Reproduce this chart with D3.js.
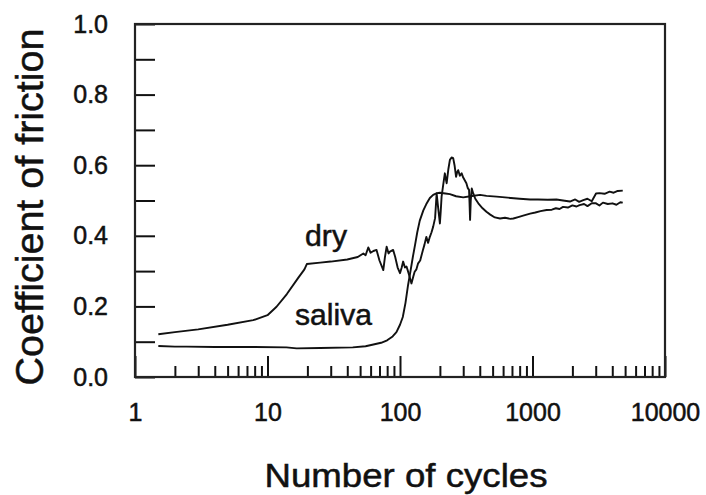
<!DOCTYPE html>
<html>
<head>
<meta charset="utf-8">
<script src="https://cdn.jsdelivr.net/npm/d3@7"></script>
<style>
  html, body { margin: 0; padding: 0; background: #fff; }
  svg { display: block; }
  text { font-family: "Liberation Sans", Arial, Helvetica, sans-serif; fill: #111; stroke: #111; stroke-width: 0.5px; }
</style>
</head>
<body>
<svg id="chart" width="706" height="495"></svg>
<script>
// ---- data ----
const xTickLabels = [1, 10, 100, 1000, 10000];
const yTickValues = [0, 0.1, 0.2, 0.3, 0.4, 0.5, 0.6, 0.7, 0.8, 0.9, 1.0];
const yTickLabels = [0, 0.2, 0.4, 0.6, 0.8, 1.0];
const seriesNames = ["dry", "saliva"];

const dryCycles = [1.5,2,3,5,7.8,10,11.7,14,17,19,19.8,25,30,40,48,52.9,55,57.6,60,63,66.5,70,74.8,77,79.3,82,84,88.8,92,96,100,103,105.6,109,112,117,122,126,129,133,137,142,149,153,158,163,168,173,178,184,189,194,200,203,206,212,218,222,225,232,238,245,252,258,265,270,275,283,292,300,317,325,332,335,338,342,348,357,370,390,420,449,480,520,569,620,680,717,780,850,960,1050,1150,1277,1400,1500,1600,1700,1850,2000,2150,2265,2450,2600,2800,3016,3200,3400,3700,4016,4300,4600,4800];
const dryMu = [0.121,0.127,0.135,0.148,0.161,0.175,0.199,0.235,0.28,0.305,0.32,0.324,0.327,0.333,0.34,0.35,0.345,0.367,0.352,0.357,0.36,0.33,0.303,0.34,0.369,0.35,0.355,0.36,0.34,0.31,0.294,0.31,0.327,0.31,0.313,0.29,0.265,0.285,0.298,0.305,0.322,0.33,0.36,0.375,0.397,0.38,0.397,0.41,0.426,0.45,0.52,0.48,0.435,0.47,0.511,0.545,0.577,0.56,0.549,0.59,0.615,0.622,0.62,0.6,0.567,0.58,0.586,0.57,0.577,0.565,0.549,0.535,0.53,0.49,0.445,0.5,0.534,0.52,0.505,0.492,0.478,0.468,0.46,0.452,0.449,0.451,0.448,0.449,0.453,0.457,0.463,0.466,0.47,0.473,0.474,0.478,0.476,0.482,0.48,0.486,0.483,0.487,0.49,0.484,0.492,0.492,0.486,0.494,0.49,0.492,0.488,0.495,0.494];

const salivaCycles = [1.5,2,2.45,4,8,13.9,16.6,25,44,55,63,72,80,88,94,100,105,110,115,120,125,130,135,141,150,158,168,178,190,200,220,238,265,300,340,402,450,536,650,800,960,1100,1300,1515,1700,1915,2100,2250,2417,2600,2800,3016,3200,3500,3819,4100,4400,4800];
const salivaMu = [0.088,0.086,0.086,0.085,0.085,0.084,0.081,0.082,0.084,0.087,0.092,0.097,0.104,0.115,0.127,0.148,0.17,0.21,0.26,0.3,0.34,0.375,0.41,0.443,0.472,0.49,0.507,0.516,0.521,0.522,0.52,0.518,0.512,0.509,0.512,0.516,0.513,0.511,0.508,0.505,0.503,0.503,0.502,0.503,0.5,0.497,0.503,0.496,0.501,0.505,0.498,0.52,0.521,0.519,0.525,0.522,0.527,0.528];

// ---- layout ----
const svg = d3.select("#chart");
const mLeft = 135, mRight = 665, mTop = 24, mBottom = 377;

const x = d3.scaleLog().domain([1, 10000]).range([mLeft, mRight]);
const y = d3.scaleLinear().domain([0, 1]).range([mBottom, mTop]);

// curves
const line = d3.line().x(d => x(d[0])).y(d => y(d[1]));
const drySeries = dryCycles.map((c, i) => [c, dryMu[i]]);
const salivaSeries = salivaCycles.map((c, i) => [c, salivaMu[i]]);

svg.append("path").datum(drySeries).attr("d", line)
  .attr("fill", "none").attr("stroke", "#111").attr("stroke-width", 1.9).attr("stroke-linejoin", "round");
svg.append("path").datum(salivaSeries).attr("d", line)
  .attr("fill", "none").attr("stroke", "#111").attr("stroke-width", 1.9).attr("stroke-linejoin", "round");

// y axis: inward ticks
const yAxis = d3.axisLeft(y).tickValues(yTickValues).tickSizeInner(-20).tickSizeOuter(0).tickPadding(27)
  .tickFormat(v => yTickLabels.some(t => Math.abs(t - v) < 1e-9) ? d3.format(".1f")(v) : "");
const gy = svg.append("g").attr("transform", `translate(${mLeft},0)`).call(yAxis);
gy.select(".domain").remove();
gy.selectAll(".tick line").attr("stroke", "#111").attr("stroke-width", 2);
gy.selectAll(".tick text").attr("font-size", 25).attr("font-family", "Liberation Sans, Arial, sans-serif").attr("fill", "#111");

// x axis: major ticks (labels) and minor ticks, inward
const minorTicks = [];
[1, 10, 100, 1000].forEach(d => { for (let k = 2; k <= 9; k++) minorTicks.push(d * k); });
const xAxisMajor = d3.axisBottom(x).tickValues(xTickLabels).tickSizeInner(-21).tickSizeOuter(0).tickPadding(26)
  .tickFormat(d3.format("d"));
const gx = svg.append("g").attr("transform", `translate(0,${mBottom})`).call(xAxisMajor);
gx.select(".domain").remove();
gx.selectAll(".tick line").attr("stroke", "#111").attr("stroke-width", 2);
gx.selectAll(".tick text").attr("font-size", 25).attr("font-family", "Liberation Sans, Arial, sans-serif").attr("fill", "#111");

const xAxisMinor = d3.axisBottom(x).tickValues(minorTicks).tickSizeInner(-11).tickSizeOuter(0).tickFormat("");
const gxm = svg.append("g").attr("transform", `translate(0,${mBottom})`).call(xAxisMinor);
gxm.select(".domain").remove();
gxm.selectAll(".tick line").attr("stroke", "#111").attr("stroke-width", 2);

// frame
svg.append("rect").attr("x", mLeft).attr("y", mTop).attr("width", mRight - mLeft).attr("height", mBottom - mTop)
  .attr("fill", "none").attr("stroke", "#222").attr("stroke-width", 2.2);

// series labels
svg.append("text").attr("x", 305).attr("y", 246).attr("font-size", 29).attr("textLength", 42)
  .attr("lengthAdjust", "spacingAndGlyphs").text(seriesNames[0]);
svg.append("text").attr("x", 295).attr("y", 325).attr("font-size", 29).attr("textLength", 77)
  .attr("lengthAdjust", "spacingAndGlyphs").text(seriesNames[1]);

// axis titles
svg.append("text").attr("x", 406).attr("y", 487).attr("text-anchor", "middle")
  .attr("font-size", 33).attr("textLength", 283).attr("lengthAdjust", "spacingAndGlyphs")
  .text("Number of cycles");
svg.append("text").attr("transform", "translate(43,207) rotate(-90)").attr("text-anchor", "middle")
  .attr("font-size", 38).attr("textLength", 357).attr("lengthAdjust", "spacingAndGlyphs")
  .text("Coefficient of friction");
</script>
</body>
</html>
